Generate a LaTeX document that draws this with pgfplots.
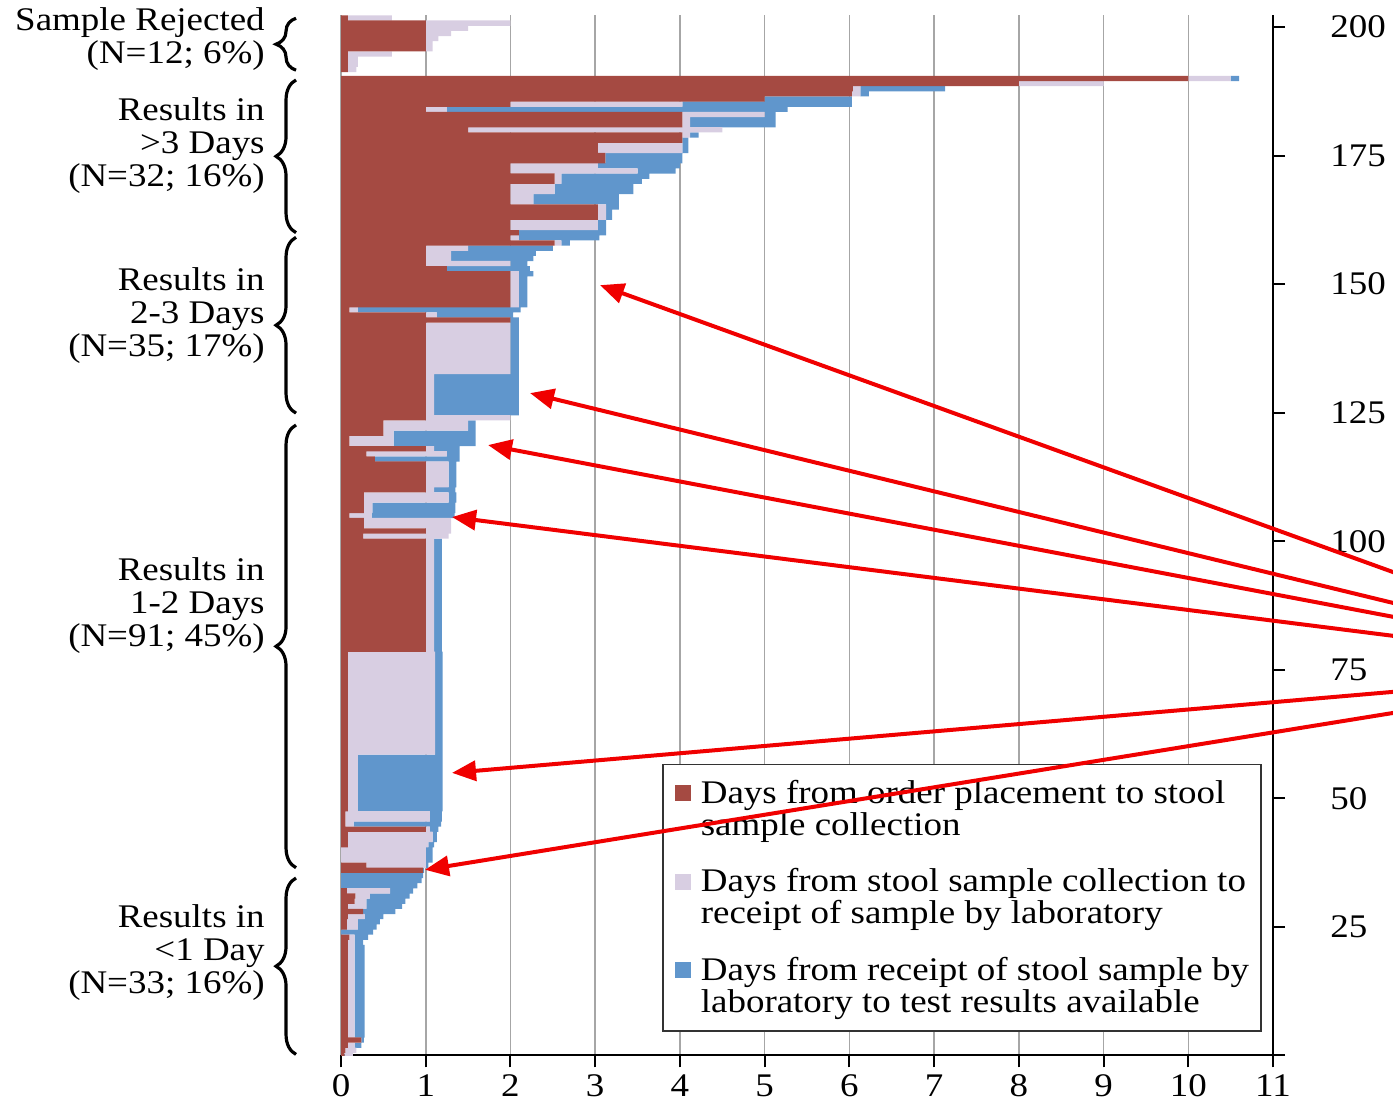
\documentclass[border=0pt]{standalone}
\usepackage{fontspec}
\setmainfont{Liberation Serif}[FakeStretch=1.12]
\usepackage{pgfplots}
\pgfplotsset{compat=1.18}
\usepackage{pgfplotstable}
\usetikzlibrary{decorations.pathreplacing, arrows.meta}
\definecolor{cRed}{RGB}{165,74,66}
\definecolor{cLav}{RGB}{216,206,226}
\definecolor{cBlue}{RGB}{96,150,204}
\definecolor{cArrow}{RGB}{240,0,0}

\pgfplotstableread{
y r p b
201.75 0.08 0.52 0
200.75 1.00 1.00 0
199.75 1.00 0.50 0
198.75 1.00 0.30 0
197.75 1.00 0.15 0
196.75 1.00 0.08 0
195.75 1.00 0.08 0
194.75 0.08 0.52 0
193.75 0.08 0.12 0
192.75 0.08 0.12 0
191.75 0.08 0.10 0
190 10.0 0.5 0.1
189 8.0 1.0 0
188 6.04 0.09 1.0
187 6.03 0.1 0.1
186 5.0 0 1.03
185 2.0 2.03 2.0
184 1.0 0.25 4.02
183 4.03 0.97 0.13
182 4.03 0.09 1.01
181 4.03 0.09 1.01
180 1.5 3.0 0
179 4.03 0.09 0.1
178 4.03 0 0.07
177 3.03 1.0 0.07
176 3.03 1.0 0.07
175 3.12 0 0.91
174 3.12 0 0.91
173 2.0 1.03 0.97
172 2.0 1.5 0.45
171 2.52 0.08 1.04
170 2.52 0.08 0.95
169 2.0 0.52 0.93
168 2.0 0.52 0.93
167 2.0 0.27 1.01
166 2.0 0.27 1.01
165 3.03 0.1 0.15
164 3.03 0.1 0.07
163 3.03 0.1 0.07
162 2.0 1.03 0.1
161 2.0 1.03 0.1
160 2.1 0 1.03
159 2.0 0.1 0.95
158 2.52 0.08 0.1
157 1.0 0.5 1.0
156 1.0 0.3 1.0
155 1.0 0.3 0.97
154 1.0 1.0 0.2
153 1.25 0 0.98
152 2.0 0.1 0.17
151 2.0 0.1 0.1
150 2.0 0.1 0.1
149 2.0 0.1 0.1
148 2.0 0.1 0.1
147 2.0 0.1 0.1
146 2.0 0.1 0.1
145 0.1 0.1 1.92
144 1.0 0.13 0.9
143 2.0 0 0.1
142 1.0 1.0 0.1
141 1.0 1.0 0.1
140 1.0 1.0 0.1
139 1.0 1.0 0.1
138 1.0 1.0 0.1
137 1.0 1.0 0.1
136 1.0 1.0 0.1
135 1.0 1.0 0.1
134 1.0 1.0 0.1
133 1.0 1.0 0.1
132 1.0 0.1 1.0
131 1.0 0.1 1.0
130 1.0 0.1 1.0
129 1.0 0.1 1.0
128 1.0 0.1 1.0
127 1.0 0.1 1.0
126 1.0 0.1 1.0
125 1.0 0.1 1.0
124 1.0 1.0 0
123 0.5 1.0 0.09
122 0.5 1.0 0.09
121 0.5 0.12 0.97
120 0.1 0.52 0.97
119 0.1 0.52 0.97
118 1.0 0.1 0.3
117 0.3 0.95 0.15
116 0.4 0 1.0
115 1.0 0.27 0.09
114 1.0 0.27 0.09
113 1.0 0.27 0.09
112 1.0 0.27 0.09
111 1.0 0.27 0.09
110 1.0 0.1 0.25
109 0.27 1.0 0.09
108 0.27 1.0 0.09
107 0.27 0.1 0.98
106 0.27 0.1 0.98
105 0.1 0.26 0.98
104 0.27 1.03 0
103 0.27 1.03 0
102 1.0 0.3 0
101 0.26 1.01 0
100 1.0 0.1 0.09
99 1.0 0.1 0.09
98 1.0 0.1 0.09
97 1.0 0.1 0.09
96 1.0 0.1 0.09
95 1.0 0.1 0.09
94 1.0 0.1 0.09
93 1.0 0.1 0.09
92 1.0 0.1 0.09
91 1.0 0.1 0.09
90 1.0 0.1 0.09
89 1.0 0.1 0.09
88 1.0 0.1 0.09
87 1.0 0.1 0.09
86 1.0 0.1 0.09
85 1.0 0.1 0.09
84 1.0 0.1 0.09
83 1.0 0.1 0.09
82 1.0 0.1 0.09
81 1.0 0.1 0.09
80 1.0 0.1 0.09
79 1.0 0.1 0.09
78 0.08 1.03 0.09
77 0.08 1.03 0.09
76 0.08 1.03 0.09
75 0.08 1.03 0.09
74 0.08 1.03 0.09
73 0.08 1.03 0.09
72 0.08 1.03 0.09
71 0.08 1.03 0.09
70 0.08 1.03 0.09
69 0.08 1.03 0.09
68 0.08 1.03 0.09
67 0.08 1.03 0.09
66 0.08 1.03 0.09
65 0.08 1.03 0.09
64 0.08 1.03 0.09
63 0.08 1.03 0.09
62 0.08 1.03 0.09
61 0.08 1.03 0.09
60 0.08 1.03 0.09
59 0.08 1.03 0.09
58 0.08 0.12 1.0
57 0.08 0.12 1.0
56 0.08 0.12 1.0
55 0.08 0.12 1.0
54 0.08 0.12 1.0
53 0.08 0.12 1.0
52 0.08 0.12 1.0
51 0.08 0.12 1.0
50 0.08 0.12 1.0
49 0.08 0.12 1.0
48 0.08 0.12 1.0
47 0.05 1.0 0.14
46 0.05 1.0 0.14
45 0.05 0.1 1.03
44 1.0 0.05 0.1
43 0.08 1.0 0.05
42 0.08 1.0 0.05
41 0.08 0.95 0.07
40 0 1.0 0.08
39 0 1.0 0.08
38 0 1.0 0.08
37 0.3 0.7 0.03
36 0.97 0 0.01
35 0 0 0.97
34 0 0 0.95
33 0 0 0.9
32 0.07 0.51 0.27
31 0.17 0.17 0.47
30 0.16 0.14 0.46
29 0.08 0.22 0.42
28 0.26 0 0.38
27 0.08 0.2 0.22
26 0.07 0.13 0.26
25 0.07 0.13 0.22
24 0 0 0.38
23 0.1 0.06 0.16
22 0.08 0.08 0.1
21 0.08 0.08 0.12
20 0.08 0.08 0.12
19 0.08 0.08 0.12
18 0.08 0.08 0.12
17 0.08 0.08 0.12
16 0.08 0.08 0.12
15 0.08 0.08 0.12
14 0.08 0.08 0.12
13 0.08 0.08 0.12
12 0.08 0.08 0.12
11 0.08 0.08 0.12
10 0.08 0.08 0.12
9 0.08 0.08 0.12
8 0.08 0.08 0.12
7 0.08 0.08 0.12
6 0.08 0.08 0.12
5 0.08 0.08 0.12
4 0.08 0.08 0.12
3 0.24 0 0.03
2 0.08 0.08 0.08
1 0.05 0.13 0
0 0.04 0.1 0
}\tbl

\begin{document}
\begin{tikzpicture}
\begin{axis}[
  scale only axis, width=466pt, height=520pt,
  xmin=0, xmax=11, ymin=0, ymax=202.25,
  xbar stacked, bar width=1.03,
  axis x line*=bottom, axis y line*=right,
  axis line style={line width=1pt, black},
  xtick={0,...,11}, ytick={25,50,...,200},
  extra y ticks={0}, extra y tick labels={},
  xmajorgrids, major grid style={draw=black!35, line width=0.8pt},
  tick align=outside, major tick length=6pt,
  tick style={line width=1pt, black},
  tick label style={font=\fontsize{16.5}{18}\selectfont},
  /pgf/number format/assume math mode=true,
  yticklabel style={anchor=west, inner sep=0pt, xshift=22.5pt},
  xticklabel style={anchor=north, inner sep=0pt, yshift=-3.5pt},
  clip mode=individual,
  legend cell align=left,
  legend image code/.code={\fill[#1] (0pt,4pt) rectangle (8pt,12pt);},
  legend style={at={(axis cs:3.789,4.59)}, anchor=south west,
    draw=black!80, line width=0.8pt, fill=white,
    inner xsep=6pt, inner ysep=8pt, row sep=15pt, column sep=5pt,
    font=\fontsize{16.5}{16}\selectfont,
    cells={align=left}, nodes={inner sep=0pt}},
]
\addplot[fill=cRed, draw=none] table[x=r, y=y] {\tbl};
\addlegendentry{Days from order placement to stool\\sample collection}
\addplot[fill=cLav, draw=none] table[x=p, y=y] {\tbl};
\addlegendentry{Days from stool sample collection to\\receipt of sample by laboratory}
\addplot[fill=cBlue, draw=none] table[x=b, y=y] {\tbl};
\addlegendentry{Days from receipt of stool sample by\\laboratory to test results available}

\coordinate (bbBL) at (axis cs:-4.025,-9.41);
\coordinate (bbTR) at (axis cs:12.416,205.25);
% brackets
\coordinate (b1a) at (axis cs:-0.531,191.6);  \coordinate (b1b) at (axis cs:-0.531,201.7);
\coordinate (b2a) at (axis cs:-0.531,160.0);  \coordinate (b2b) at (axis cs:-0.531,189.7);
\coordinate (b3a) at (axis cs:-0.531,124.9);  \coordinate (b3b) at (axis cs:-0.531,159.1);
\coordinate (b4a) at (axis cs:-0.531,36.5);   \coordinate (b4b) at (axis cs:-0.531,122.6);
\coordinate (b5a) at (axis cs:-0.531,0.2);    \coordinate (b5b) at (axis cs:-0.531,34.5);
% labels
\coordinate (l1) at (axis cs:-0.897,197.6);
\coordinate (l2) at (axis cs:-0.897,177.0);
\coordinate (l3) at (axis cs:-0.897,143.8);
\coordinate (l4) at (axis cs:-0.897,87.4);
\coordinate (l5) at (axis cs:-0.897,20.1);
% arrows
\coordinate (t1) at (axis cs:12.416,94.0);  \coordinate (h1) at (axis cs:3.057,149.8);
\coordinate (t2) at (axis cs:12.416,88.0);  \coordinate (h2) at (axis cs:2.231,128.8);
\coordinate (t3) at (axis cs:12.416,85.3);  \coordinate (h3) at (axis cs:1.735,118.7);
\coordinate (t4) at (axis cs:12.416,81.6);  \coordinate (h4) at (axis cs:1.31,104.7);
\coordinate (t5) at (axis cs:12.416,70.7);  \coordinate (h5) at (axis cs:1.31,54.95);
\coordinate (t6) at (axis cs:12.416,66.6);  \coordinate (h6) at (axis cs:0.991,36.1);
\end{axis}
\pgfresetboundingbox
\useasboundingbox (bbBL) rectangle (bbTR);
\foreach \a/\b in {b1a/b1b,b2a/b2b,b3a/b3b,b4a/b4b,b5a/b5b}
  \draw[decorate, decoration={brace, amplitude=10pt}, line width=1.6pt] (\a) -- (\b);
\begin{scope}[every node/.style={anchor=east, align=right, inner sep=0pt, font=\fontsize{16.5}{16.5}\selectfont}]
\node at (l1) {Sample Rejected\\(N=12; 6\%)};
\node at (l2) {Results in\\>3 Days\\(N=32; 16\%)};
\node at (l3) {Results in\\2-3 Days\\(N=35; 17\%)};
\node at (l4) {Results in\\1-2 Days\\(N=91; 45\%)};
\node at (l5) {Results in\\<1 Day\\(N=33; 16\%)};
\end{scope}
\foreach \t/\h in {t1/h1,t2/h2,t3/h3,t4/h4,t5/h5,t6/h6}
  \draw[cArrow, line width=2pt, shorten <=-30pt, -{Triangle[length=12pt,width=10pt]}] (\t) -- (\h);
\end{tikzpicture}
\end{document}
